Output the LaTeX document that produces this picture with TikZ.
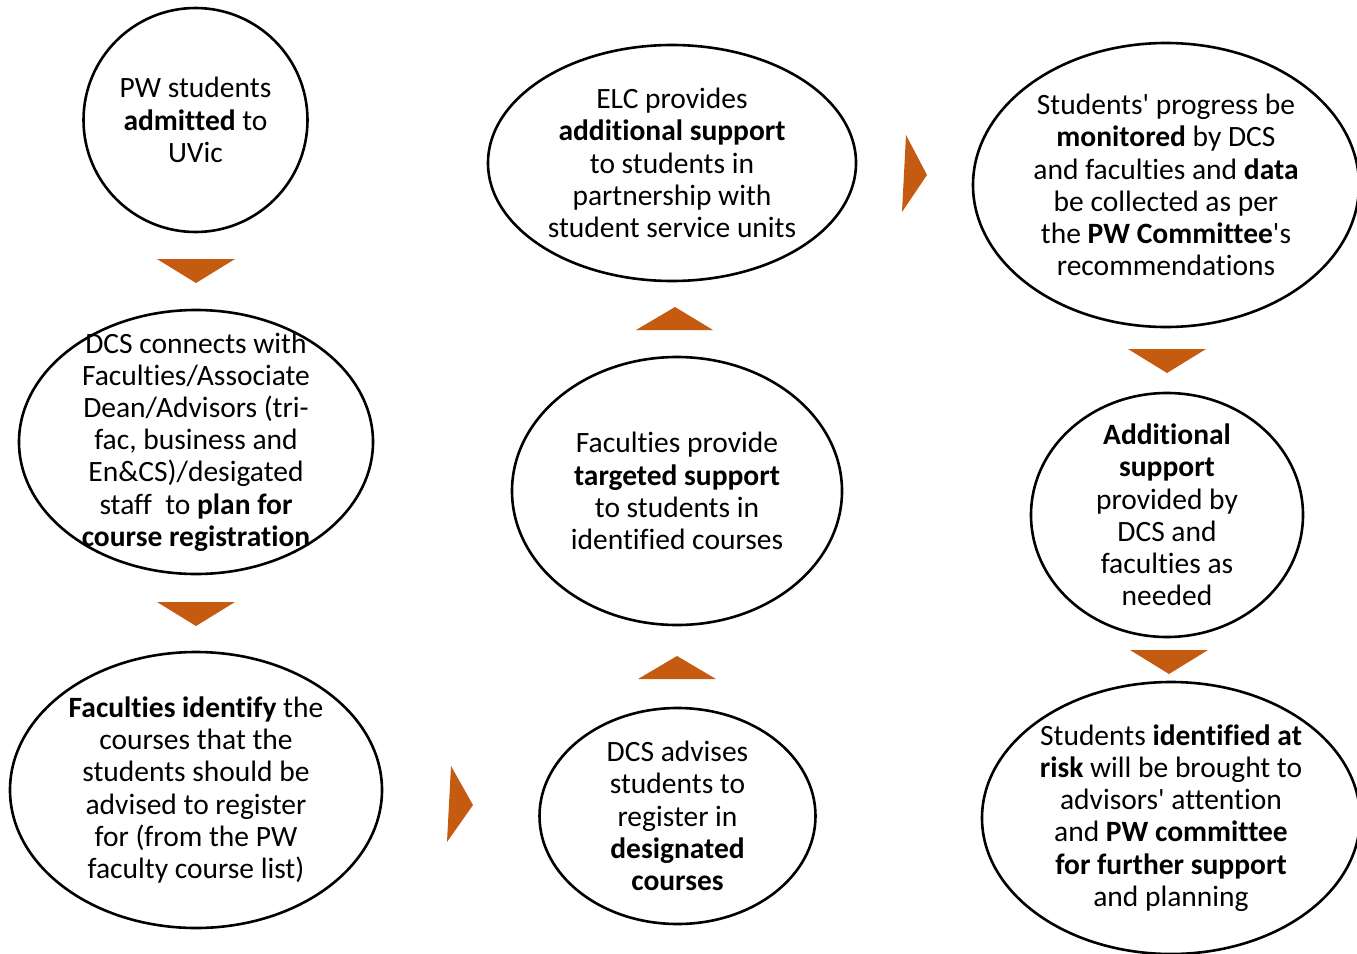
\documentclass[tikz,border=0pt]{standalone}
\usepackage{fontspec}
\setmainfont{Carlito}[Ligatures={TeX,NoCommon,NoContextual,NoRare},Contextuals=NoAlternate]
\usetikzlibrary{shapes.geometric}
\begin{document}
\begin{tikzpicture}[x=1pt,y=-1pt,
  bubble/.style={draw=black,line width=2.6pt,shape=ellipse,inner sep=0pt},
  txt/.style={align=center,inner sep=0pt,font=\fontsize{29.5}{32.2}\selectfont},
  tri/.style={fill=arrowor,draw=none}]
\definecolor{arrowor}{HTML}{C55A11}
\useasboundingbox (0,0) rectangle (1357,953);
\clip (0,0) rectangle (1357,953);
\fill[white] (0,0) rectangle (1357,953);

% left column
\node[bubble,minimum width=224pt,minimum height=224pt] (n1) at (195.5,120) {};
\node[txt] (t1) at (n1.center) {PW students\\\textbf{admitted} to\\UVic};

\node[bubble,minimum width=354pt,minimum height=264pt] (n2) at (196,442) {};
\node[txt] (t2) at (n2.center) {DCS connects with\\Faculties/Associate\\Dean/Advisors (tri-\\fac, business and\\En\&CS)/desigated\\staff\ \ to \textbf{plan for}\\\textbf{course registration}};

\node[bubble,minimum width=372pt,minimum height=276pt] (n3) at (196,790) {};
\node[txt] (t3) at (n3.center) {\textbf{Faculties identify} the\\courses that the\\students should be\\advised to register\\for (from the PW\\faculty course list)};

% middle column
\node[bubble,minimum width=276pt,minimum height=216pt] (n4) at (677.5,816) {};
\node[txt] (t4) at (n4.center) {DCS advises\\students to\\register in\\\textbf{designated}\\\textbf{courses}};

\node[bubble,minimum width=330pt,minimum height=268pt] (n5) at (677,491) {};
\node[txt] (t5) at (n5.center) {Faculties provide\\\textbf{targeted support}\\to students in\\identified courses};

\node[bubble,minimum width=368pt,minimum height=236pt] (n6) at (672,163) {};
\node[txt] (t6) at (n6.center) {ELC provides\\\textbf{additional support}\\to students in\\partnership with\\student service units};

% right column
\node[bubble,minimum width=386pt,minimum height=284pt] (n7) at (1166,185) {};
\node[txt] (t7) at (n7.center) {Students\textquotesingle\ progress be\\\textbf{monitored} by DCS\\and faculties and \textbf{data}\\be collected as per\\the \textbf{PW Committee}\textquotesingle s\\recommendations};

\node[bubble,minimum width=272pt,minimum height=244pt] (n8) at (1167,515) {};
\node[txt] (t8) at (n8.center) {\textbf{Additional}\\\textbf{support}\\provided by\\DCS and\\faculties as\\needed};

\node[bubble,minimum width=378pt,minimum height=272pt] (n9) at (1171,818) {};
\node[txt] (t9) at (n9.center) {Students \textbf{identified at}\\\textbf{risk} will be brought to\\advisors\textquotesingle\ attention\\and \textbf{PW committee}\\\textbf{for further support}\\and planning};

% orange arrowheads between the steps
\fill[tri] (157,259) -- (235,259) -- (196,283) -- cycle;
\fill[tri] (157,602) -- (235,602) -- (196,626) -- cycle;
\fill[tri] (451,766) -- (473,805) -- (447,842) -- cycle;
\fill[tri] (638,679) -- (716,679) -- (677,656) -- cycle;
\fill[tri] (636,330) -- (713,330) -- (675,307) -- cycle;
\fill[tri] (906,135) -- (927,175) -- (902,212) -- cycle;
\fill[tri] (1128,349) -- (1206,349) -- (1167,373) -- cycle;
\fill[tri] (1130,650) -- (1208,650) -- (1169,674) -- cycle;
\end{tikzpicture}
\end{document}
